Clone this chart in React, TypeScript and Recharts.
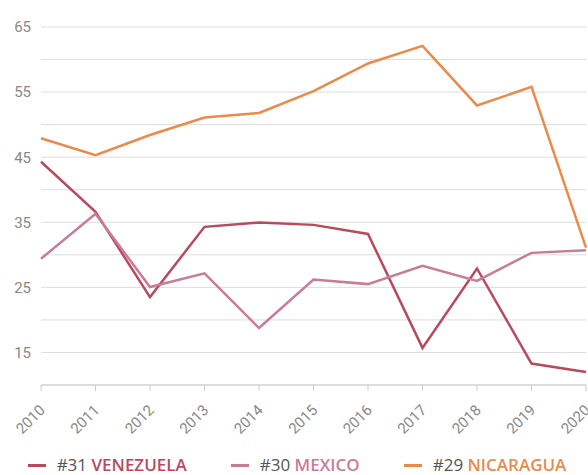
import { LineChart, Line, XAxis, YAxis, CartesianGrid, Legend } from 'recharts';

const years = ['2010', '2011', '2012', '2013', '2014', '2015', '2016', '2017', '2018', '2019', '2020'];
const venezuela = [44.3, 36.6, 23.5, 34.3, 34.95, 34.6, 33.2, 15.7, 27.9, 13.3, 12.0];
const mexico = [29.4, 36.3, 25.05, 27.15, 18.75, 26.2, 25.5, 28.3, 26.0, 30.3, 30.7];
const nicaragua = [47.9, 45.3, 48.4, 51.1, 51.8, 55.15, 59.4, 62.1, 52.95, 55.8, 31.1];
const yTicks = [10, 15, 20, 25, 30, 35, 40, 45, 50, 55, 60, 65];
const labelledTicks = [15, 25, 35, 45, 55, 65];

const series = [
  { key: 'venezuela', rank: '#31', name: 'VENEZUELA', color: '#b94a5c' },
  { key: 'mexico', rank: '#30', name: 'MEXICO', color: '#c97c98' },
  { key: 'nicaragua', rank: '#29', name: 'NICARAGUA', color: '#ea8a4b' },
];

const data = years.map((year, i) => ({
  year,
  venezuela: venezuela[i],
  mexico: mexico[i],
  nicaragua: nicaragua[i],
}));

const XTick = (props: any) => {
  const { x, y, payload } = props;
  const tx = x + 5;
  const ty = y + 18;
  return (
    <text
      x={tx}
      y={ty}
      transform={`rotate(-45, ${tx}, ${ty})`}
      textAnchor="end"
      fill="#888"
      fontSize={15}
      fontFamily="Roboto, sans-serif"
    >
      {payload.value}
    </text>
  );
};

const LegendContent = () => (
  <div
    style={{
      height: 40,
      display: 'flex',
      alignItems: 'flex-end',
      justifyContent: 'center',
      gap: 44,
      fontFamily: '"Open Sans", sans-serif',
      fontSize: 17,
      lineHeight: '18px',
      paddingBottom: 1,
      paddingLeft: 8,
      boxSizing: 'border-box',
    }}
  >
    {series.map((s) => (
      <div key={s.key} style={{ display: 'flex', alignItems: 'center' }}>
        <span style={{ display: 'inline-block', width: 18, height: 3, background: s.color, marginRight: 11 }} />
        <span style={{ color: '#555' }}>{s.rank}&nbsp;</span>
        <span style={{ color: s.color, fontWeight: 600 }}>{s.name}</span>
      </div>
    ))}
  </div>
);

export default function App() {
  return (
    <div style={{ position: 'absolute', left: 0, top: 0 }}>
      <LineChart width={588} height={475} data={data} margin={{ top: 27, right: 2, left: 0, bottom: 0 }}>
        <CartesianGrid vertical={false} stroke="#ddd" />
        <XAxis
          dataKey="year"
          height={50}
          interval={0}
          stroke="#ccc"
          tickSize={6}
          tick={<XTick />}
        />
        <YAxis
          width={41}
          domain={[10, 65]}
          ticks={yTicks}
          axisLine={false}
          tickLine={false}
          tickMargin={4}
          tick={{ fill: '#888', fontSize: 15, fontFamily: 'Roboto, sans-serif' }}
          tickFormatter={(v: number) => (labelledTicks.includes(v) ? String(v) : '')}
        />
        <Legend verticalAlign="bottom" content={<LegendContent />} />
        {series.map((s) => (
          <Line
            key={s.key}
            type="linear"
            dataKey={s.key}
            stroke={s.color}
            strokeWidth={2.5}
            dot={false}
            isAnimationActive={false}
          />
        ))}
      </LineChart>
    </div>
  );
}
